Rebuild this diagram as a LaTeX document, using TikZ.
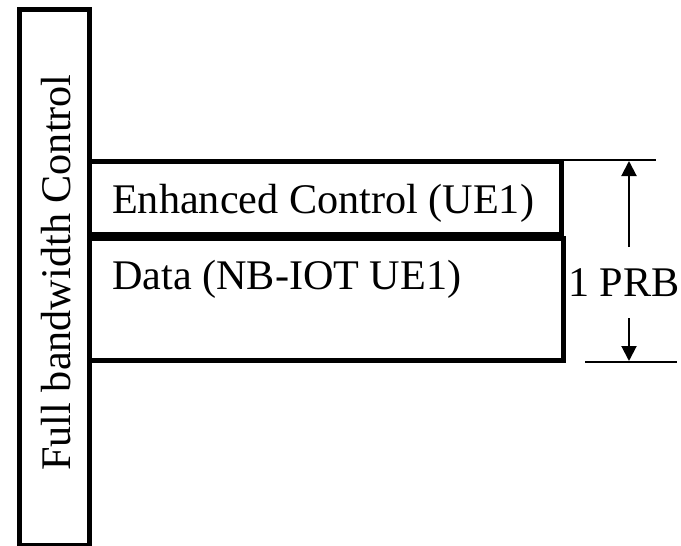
\documentclass[tikz,border=0pt]{standalone}
\usepackage{fontspec}
\setmainfont{Liberation Serif}
\usetikzlibrary{arrows.meta}
\begin{document}
\begin{tikzpicture}[x=1pt,y=-1pt,
  box/.style={draw,line width=5pt,inner sep=0pt},
  lbl/.style={font=\fontsize{42.2}{48}\selectfont,inner sep=0pt},
  dimline/.style={line width=1.5pt},
  arr/.style={line width=2pt,-{Triangle[length=15pt,width=15pt]}}]
\useasboundingbox (0,0) rectangle (681,546);
% boxes
\node[box,minimum width=70.5pt,minimum height=536pt] (full) at (54.25,277.5) {};
\node[box,minimum width=471.5pt,minimum height=72.5pt] (enh) at (325.25,197.75) {};
\node[box,minimum width=473.5pt,minimum height=122pt] (data) at (326.25,299) {};
% texts
\node[lbl,rotate=90,anchor=base] (fulltxt) at (70,272.5) {Full bandwidth Control};
\node[lbl,anchor=base west] (enhtxt) at (112,213) {Enhanced Control (UE1)};
\node[lbl,anchor=base west] (datatxt) at (112,289) {Data (NB-IOT UE1)};
% dimension
\coordinate (t1) at (563,160);
\coordinate (t2) at (656,160);
\coordinate (b1) at (585,362);
\coordinate (b2) at (677,362);
\coordinate (tip1) at (629,161);
\coordinate (tip2) at (629,361);
\coordinate (s1) at (629,247);
\coordinate (s2) at (629,318);
\draw[dimline] (t1) -- (t2);
\draw[dimline] (b1) -- (b2);
\node[lbl,anchor=base] (prb) at (624,296) {1 PRB};
\draw[arr] (s1) -- (tip1);
\draw[arr] (s2) -- (tip2);
\end{tikzpicture}
\end{document}
